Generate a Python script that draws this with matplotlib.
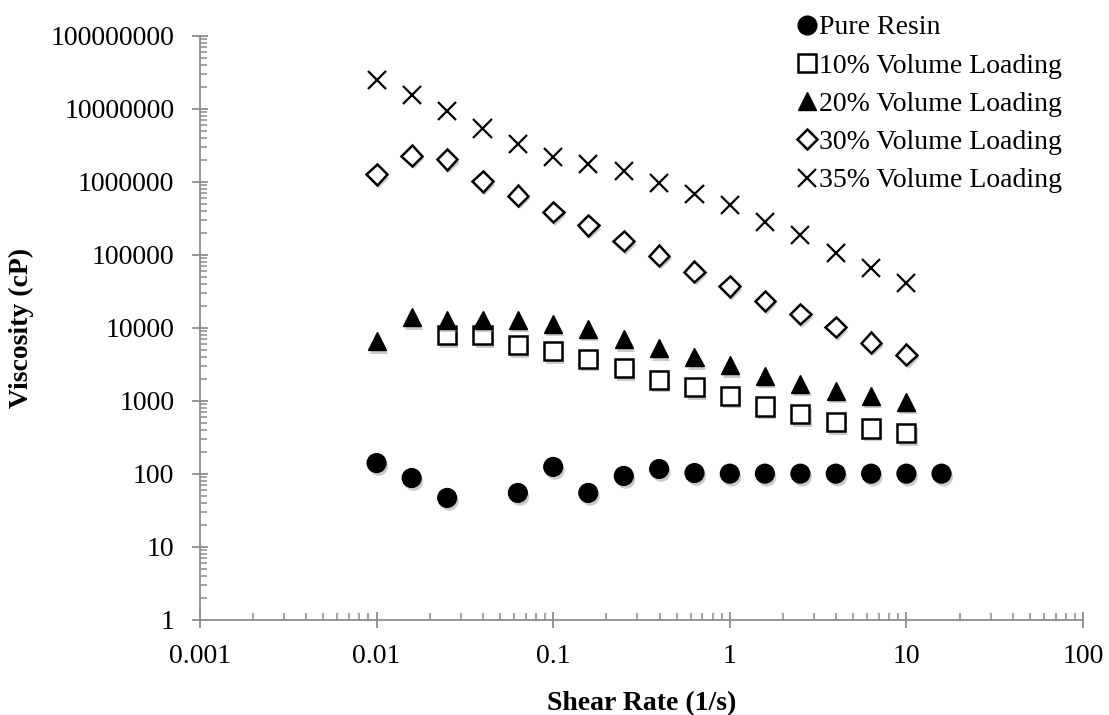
import matplotlib
matplotlib.use("Agg")
from matplotlib import pyplot as plt
from matplotlib import patheffects as pe
from matplotlib.ticker import LogLocator, FixedFormatter, FixedLocator

plt.rcParams['font.family'] = ['Liberation Serif', 'DejaVu Serif']

# shear rates (1/s), 5 points per decade
shear = [0.01, 0.0158, 0.0251, 0.0398, 0.0631, 0.1, 0.158, 0.251, 0.398,
         0.631, 1.0, 1.58, 2.51, 3.98, 6.31, 10.0, 15.8]

# pure resin has no reading at 0.0398
resin_x = [0.01, 0.0158, 0.0251, 0.0631, 0.1, 0.158, 0.251, 0.398, 0.631,
           1.0, 1.58, 2.51, 3.98, 6.31, 10.0, 15.8]
resin_y = [141, 88, 47, 55, 125, 55, 94, 117, 103, 101, 101, 101, 101, 101, 101, 101]

vol10_x = shear[2:16]
vol10_y = [7900, 7900, 5800, 4800, 3800, 2800, 1960, 1550, 1170, 840, 660, 510, 420, 360]

vol20_x = shear[:16]
vol20_y = [6600, 14000, 13000, 13000, 13000, 11500, 9700, 7000, 5300, 4000,
           3100, 2200, 1720, 1370, 1170, 970]

vol30_x = shear[:16]
vol30_y = [1.27e6, 2.3e6, 2.05e6, 1.02e6, 6.5e5, 3.9e5, 2.55e5, 1.55e5, 9.8e4,
           5.9e4, 3.7e4, 2.35e4, 1.55e4, 1.03e4, 6.3e3, 4.3e3]

vol35_x = shear[:16]
vol35_y = [2.5e7, 1.55e7, 9.3e6, 5.4e6, 3.3e6, 2.2e6, 1.75e6, 1.4e6, 9.8e5,
           6.8e5, 4.9e5, 2.85e5, 1.9e5, 1.08e5, 6.7e4, 4.1e4]

labels = ['Pure Resin', '10% Volume Loading', '20% Volume Loading',
          '30% Volume Loading', '35% Volume Loading']

xticks = [0.001, 0.01, 0.1, 1, 10, 100]
xticklabels = ['0.001', '0.01', '0.1', '1', '10', '100']
yticks = [1, 10, 100, 1000, 10000, 100000, 1000000, 10000000, 100000000]
yticklabels = ['1', '10', '100', '1000', '10000', '100000', '1000000',
               '10000000', '100000000']

fig = plt.figure(figsize=(11.09, 7.15), dpi=100)
ax = fig.add_axes([0.1803, 0.1329, 0.7963, 0.8168])

shadow = [pe.SimplePatchShadow(offset=(1.5, -2.5), shadow_rgbFace='0.55', alpha=0.45),
          pe.Normal()]

ax.plot(resin_x, resin_y, ls='none', marker='o', ms=13.5, color='black',
        label=labels[0], path_effects=shadow)
ax.plot(vol10_x, vol10_y, ls='none', marker='s', ms=13, mfc='white', mec='black',
        mew=1.8, label=labels[1], path_effects=shadow)
ax.plot(vol20_x, vol20_y, ls='none', marker='^', ms=13, color='black',
        label=labels[2], path_effects=shadow)
ax.plot(vol30_x, vol30_y, ls='none', marker='D', ms=10.5, mfc='white', mec='black',
        mew=1.8, label=labels[3], path_effects=shadow)
ax.plot(vol35_x, vol35_y, ls='none', marker='x', ms=13, color='black',
        mew=1.6, label=labels[4], path_effects=shadow)

ax.set_xscale('log')
ax.set_yscale('log')
ax.set_xlim(0.001, 100)
ax.set_ylim(1, 1e8)

ax.xaxis.set_major_locator(FixedLocator(xticks))
ax.xaxis.set_major_formatter(FixedFormatter(xticklabels))
ax.yaxis.set_major_locator(FixedLocator(yticks))
ax.yaxis.set_major_formatter(FixedFormatter(yticklabels))
ax.xaxis.set_minor_locator(LogLocator(base=10, subs=range(2, 10), numticks=20))
ax.yaxis.set_minor_locator(LogLocator(base=10, subs=range(2, 10), numticks=20))

for s in ['top', 'right']:
    ax.spines[s].set_visible(False)
for s in ['left', 'bottom']:
    ax.spines[s].set_color('#8c8c8c')
    ax.spines[s].set_linewidth(1.3)

ax.tick_params(which='major', direction='inout', length=11, width=1.3,
               color='#8c8c8c', labelsize=20)
ax.tick_params(which='minor', direction='in', length=5, width=1.1, color='#8c8c8c')
ax.tick_params(axis='y', which='major', pad=13)
ax.tick_params(axis='x', which='major', pad=12)

ax.set_xlabel('Shear Rate (1/s)', fontsize=20, fontweight='bold', labelpad=16)
ax.set_ylabel('Viscosity (cP)', fontsize=20, fontweight='bold', labelpad=12)

leg = ax.legend(loc='upper right', bbox_to_anchor=(0.989, 1.055), frameon=False,
                fontsize=20, handlelength=0.7, handletextpad=0.1, labelspacing=0.46,
                borderaxespad=0)
for h in leg.legend_handles:
    h.set_path_effects([])

fig.savefig('out.png', dpi=100, facecolor='white')
